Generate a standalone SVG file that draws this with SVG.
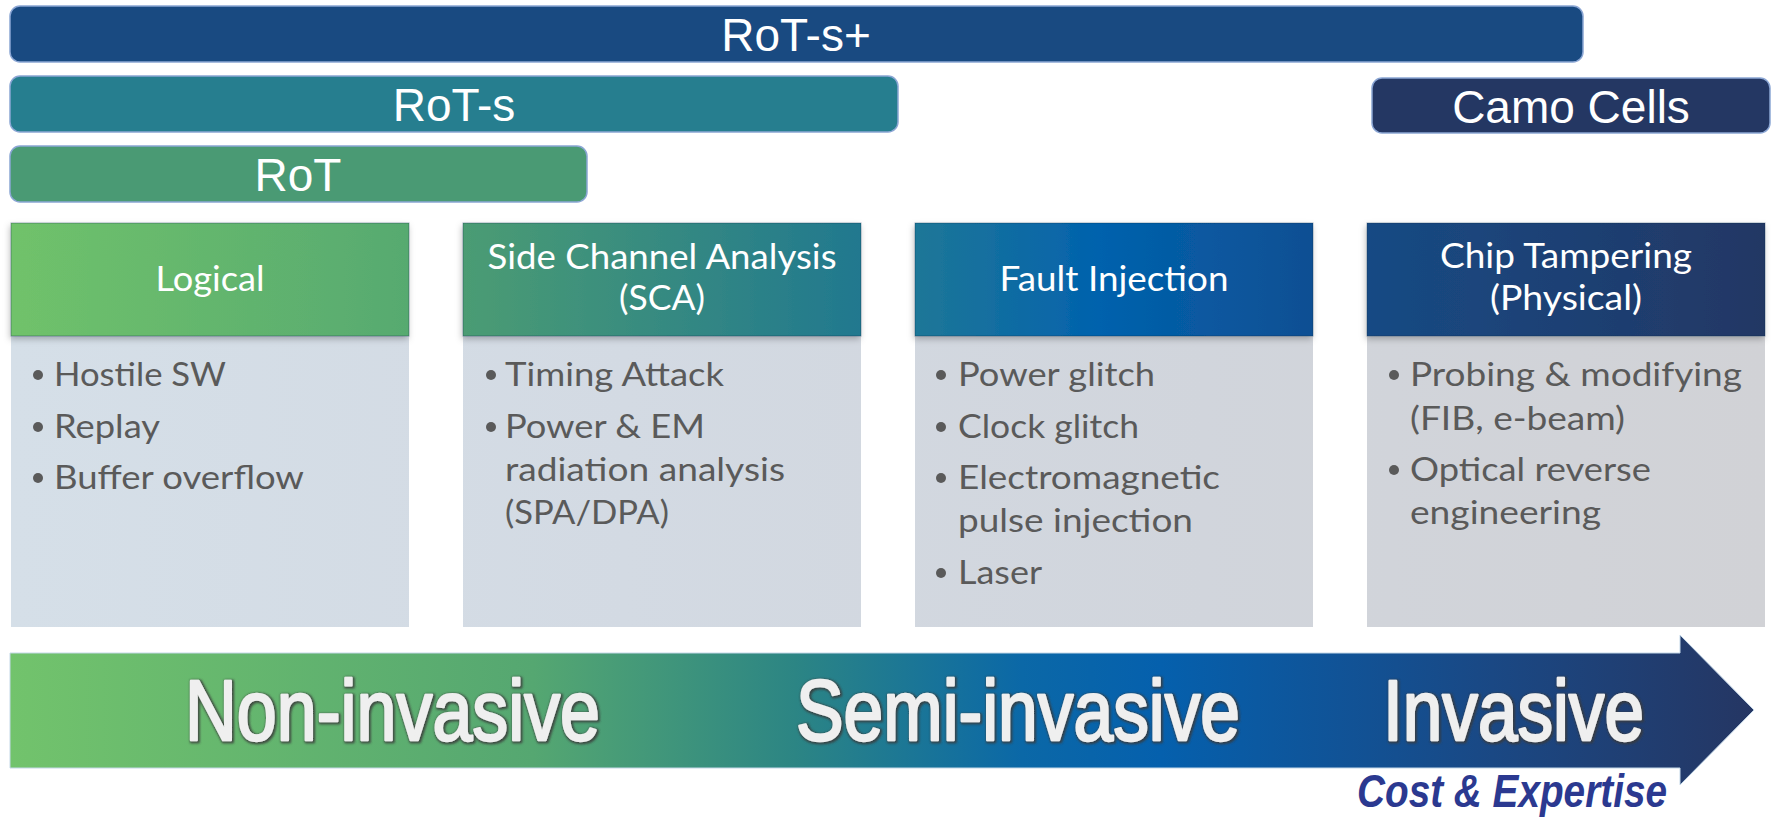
<svg xmlns="http://www.w3.org/2000/svg" width="1771" height="817" viewBox="0 0 1771 817">
  <defs>
    <linearGradient id="hdrGrad" gradientUnits="userSpaceOnUse" x1="11" y1="0" x2="1765" y2="0">
      <stop offset="0" stop-color="#70c26b"/>
      <stop offset="0.226" stop-color="#57aa70"/>
      <stop offset="0.258" stop-color="#4b9c73"/>
      <stop offset="0.485" stop-color="#21788f"/>
      <stop offset="0.515" stop-color="#1e7797"/>
      <stop offset="0.62" stop-color="#0262ad"/>
      <stop offset="0.742" stop-color="#0d4f93"/>
      <stop offset="0.773" stop-color="#174a84"/>
      <stop offset="1" stop-color="#233764"/>
    </linearGradient>
    <linearGradient id="bodyGrad" gradientUnits="userSpaceOnUse" x1="11" y1="0" x2="1765" y2="0">
      <stop offset="0" stop-color="#d5dfe8"/>
      <stop offset="0.35" stop-color="#d3dae3"/>
      <stop offset="0.68" stop-color="#d1d5dc"/>
      <stop offset="1" stop-color="#d1d2d6"/>
    </linearGradient>
    <linearGradient id="arrowGrad" gradientUnits="userSpaceOnUse" x1="10" y1="0" x2="1754" y2="0">
      <stop offset="0" stop-color="#72c36c"/>
      <stop offset="0.3" stop-color="#55a771"/>
      <stop offset="0.45" stop-color="#2c8584"/>
      <stop offset="0.58" stop-color="#0b68a7"/>
      <stop offset="0.66" stop-color="#0560ad"/>
      <stop offset="0.85" stop-color="#1a4884"/>
      <stop offset="1" stop-color="#253663"/>
    </linearGradient>
    <filter id="hdrShadow" x="-5%" y="-10%" width="110%" height="130%">
      <feDropShadow dx="-1" dy="3" stdDeviation="3" flood-color="#000" flood-opacity="0.25"/>
    </filter>
    <filter id="embossText" x="-5%" y="-15%" width="110%" height="140%">
      <feMorphology in="SourceAlpha" operator="dilate" radius="1" result="grown"/>
      <feGaussianBlur in="grown" stdDeviation="1" result="soft"/>
      <feFlood flood-color="#3a3a3a" flood-opacity="0.85"/>
      <feComposite in2="soft" operator="in" result="edge"/>
      <feOffset in="edge" dx="0.5" dy="1" result="edgeOff"/>
      <feMerge>
        <feMergeNode in="edgeOff"/>
        <feMergeNode in="SourceGraphic"/>
      </feMerge>
    </filter>
    <style>
      .bar { stroke: #8ba6d4; stroke-width: 1.5; }
      .barLabel { font-family: "Liberation Sans", Arial, sans-serif; font-size: 46px; fill: #ffffff; text-anchor: middle; }
      .hdr { fill: url(#hdrGrad); stroke: rgba(10, 40, 70, 0.35); stroke-width: 1; filter: url(#hdrShadow); }
      .body { fill: url(#bodyGrad); }
      .hdrText { font-family: Lato, "Open Sans", sans-serif; font-size: 34px; fill: #ffffff; text-anchor: middle; }
      .item { font-family: Lato, "Open Sans", sans-serif; font-size: 33px; fill: #5a5a5a; }
      .dot { fill: #5a5a5a; }
      .scale { font-family: "Liberation Sans", Arial, sans-serif; font-size: 85px; fill: #efefef; stroke: #efefef; stroke-width: 2.4; stroke-linejoin: round; filter: url(#embossText); }
      .cost { font-family: "Liberation Sans", Arial, sans-serif; font-size: 47px; font-weight: bold; font-style: italic; fill: #2b3990; }
    </style>
  </defs>

  <!-- protection tiers -->
  <g id="rot-s-plus">
    <rect class="bar" x="10" y="6" width="1573" height="56" rx="10" fill="#194a81"/>
    <text class="barLabel" x="796" y="51">RoT-s+</text>
  </g>
  <g id="rot-s">
    <rect class="bar" x="10" y="76" width="888" height="56" rx="10" fill="#267e8f"/>
    <text class="barLabel" x="454" y="121">RoT-s</text>
  </g>
  <g id="rot">
    <rect class="bar" x="10" y="146" width="577" height="56" rx="10" fill="#4a9a74"/>
    <text class="barLabel" x="298" y="191">RoT</text>
  </g>
  <g id="camo-cells">
    <rect class="bar" x="1372" y="78" width="398" height="55" rx="10" fill="#243763"/>
    <text class="barLabel" x="1571" y="123">Camo Cells</text>
  </g>

  <!-- attack categories -->
  <g id="logical">
    <rect class="body" x="11" y="336" width="398" height="291"/>
    <rect class="hdr" x="11" y="223" width="398" height="113"/>
    <text class="hdrText" x="210" y="291" textLength="109" lengthAdjust="spacingAndGlyphs">Logical</text>
    <circle class="dot" cx="38" cy="375" r="5"/>
    <text class="item" x="54" y="386" textLength="172" lengthAdjust="spacingAndGlyphs">Hostile SW</text>
    <circle class="dot" cx="38" cy="427" r="5"/>
    <text class="item" x="54" y="438" textLength="106" lengthAdjust="spacingAndGlyphs">Replay</text>
    <circle class="dot" cx="38" cy="478" r="5"/>
    <text class="item" x="54" y="489" textLength="250" lengthAdjust="spacingAndGlyphs">Buffer overflow</text>
  </g>

  <g id="side-channel">
    <rect class="body" x="463" y="336" width="398" height="291"/>
    <rect class="hdr" x="463" y="223" width="398" height="113"/>
    <text class="hdrText" x="662" y="269" textLength="349" lengthAdjust="spacingAndGlyphs">Side Channel Analysis</text>
    <text class="hdrText" x="662" y="310" textLength="86" lengthAdjust="spacingAndGlyphs">(SCA)</text>
    <circle class="dot" cx="491" cy="375" r="5"/>
    <text class="item" x="505" y="386" textLength="219" lengthAdjust="spacingAndGlyphs">Timing Attack</text>
    <circle class="dot" cx="491" cy="427" r="5"/>
    <text class="item" x="505" y="438" textLength="200" lengthAdjust="spacingAndGlyphs">Power &amp; EM</text>
    <text class="item" x="505" y="481" textLength="280" lengthAdjust="spacingAndGlyphs">radiation analysis</text>
    <text class="item" x="505" y="524" textLength="164" lengthAdjust="spacingAndGlyphs">(SPA/DPA)</text>
  </g>

  <g id="fault-injection">
    <rect class="body" x="915" y="336" width="398" height="291"/>
    <rect class="hdr" x="915" y="223" width="398" height="113"/>
    <text class="hdrText" x="1114" y="291" textLength="229" lengthAdjust="spacingAndGlyphs">Fault Injection</text>
    <circle class="dot" cx="941" cy="375" r="5"/>
    <text class="item" x="958" y="386" textLength="197" lengthAdjust="spacingAndGlyphs">Power glitch</text>
    <circle class="dot" cx="941" cy="427" r="5"/>
    <text class="item" x="958" y="438" textLength="181" lengthAdjust="spacingAndGlyphs">Clock glitch</text>
    <circle class="dot" cx="941" cy="478" r="5"/>
    <text class="item" x="958" y="489" textLength="262" lengthAdjust="spacingAndGlyphs">Electromagnetic</text>
    <text class="item" x="958" y="532" textLength="235" lengthAdjust="spacingAndGlyphs">pulse injection</text>
    <circle class="dot" cx="941" cy="573" r="5"/>
    <text class="item" x="958" y="584" textLength="84" lengthAdjust="spacingAndGlyphs">Laser</text>
  </g>

  <g id="chip-tampering">
    <rect class="body" x="1367" y="336" width="398" height="291"/>
    <rect class="hdr" x="1367" y="223" width="398" height="113"/>
    <text class="hdrText" x="1566" y="268" textLength="252" lengthAdjust="spacingAndGlyphs">Chip Tampering</text>
    <text class="hdrText" x="1566" y="310" textLength="152" lengthAdjust="spacingAndGlyphs">(Physical)</text>
    <circle class="dot" cx="1394" cy="375" r="5"/>
    <text class="item" x="1410" y="386" textLength="332" lengthAdjust="spacingAndGlyphs">Probing &amp; modifying</text>
    <text class="item" x="1410" y="430" textLength="215" lengthAdjust="spacingAndGlyphs">(FIB, e-beam)</text>
    <circle class="dot" cx="1394" cy="470" r="5"/>
    <text class="item" x="1410" y="481" textLength="241" lengthAdjust="spacingAndGlyphs">Optical reverse</text>
    <text class="item" x="1410" y="524" textLength="191" lengthAdjust="spacingAndGlyphs">engineering</text>
  </g>

  <!-- invasiveness scale -->
  <g id="connectors">
    <polygon points="10,653 1680,653 1680,635 1754,710 1680,785 1680,768 10,768" fill="url(#arrowGrad)" stroke="#c4d8e8" stroke-width="1"/>
  </g>
  <g id="scale-labels">
    <text class="scale" x="185" y="740" textLength="415" lengthAdjust="spacingAndGlyphs">Non-invasive</text>
    <text class="scale" x="796" y="740" textLength="444" lengthAdjust="spacingAndGlyphs">Semi-invasive</text>
    <text class="scale" x="1383" y="740" textLength="261" lengthAdjust="spacingAndGlyphs">Invasive</text>
    <text class="cost" x="1357" y="807" textLength="310" lengthAdjust="spacingAndGlyphs">Cost &amp; Expertise</text>
  </g>
</svg>
